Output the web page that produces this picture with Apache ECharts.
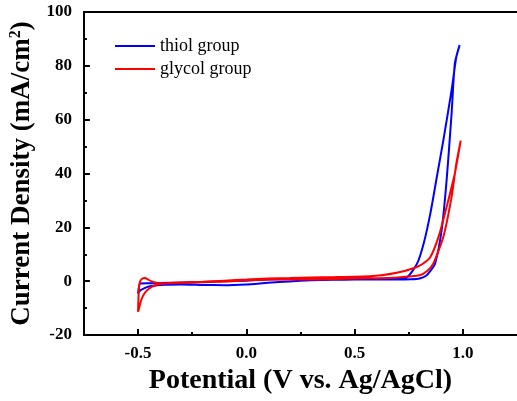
<!DOCTYPE html>
<html>
<head>
<meta charset="utf-8">
<script src="https://cdn.jsdelivr.net/npm/echarts@6/dist/echarts.min.js"></script>
<style>
  html, body { margin: 0; padding: 0; background: #fff; }
  #chart { width: 517px; height: 401px; }
</style>
</head>
<body>
<div id="chart"></div>
<script>
// thiol group (blue) CV loop
const thiolPotential = [-0.5, -0.49, -0.47, -0.45, -0.42, -0.38, -0.3, -0.2, -0.1, 0.0, 0.1, 0.2, 0.3, 0.4, 0.5, 0.6, 0.7, 0.76, 0.8, 0.83, 0.85, 0.872, 0.902, 0.925, 0.948, 0.963, 0.985,
  0.97, 0.948, 0.91, 0.88, 0.85, 0.819, 0.789, 0.744, 0.682, 0.6, 0.5, 0.3, 0.1, 0.0, -0.2, -0.35, -0.45, -0.49, -0.5];
const thiolCurrent = [-4.6, -3.5, -2.6, -2.0, -1.6, -1.3, -1.2, -1.4, -1.5, -1.2, -0.6, -0.1, 0.3, 0.5, 0.6, 0.6, 0.6, 0.7, 1.0, 2.0, 3.8, 6.6, 19, 37.5, 62.3, 80.9, 87.7,
  83.4, 71, 52.4, 38.8, 25.2, 14, 6.6, 1.6, 0.8, 0.8, 1.0, 1.0, 0.6, 0.2, -0.3, -0.6, -0.8, -0.9, -4.6];

// glycol group (red) CV loop
const glycolPotential = [-0.5, -0.498, -0.495, -0.49, -0.48, -0.468, -0.455, -0.44, -0.42, -0.4, -0.35, -0.3, -0.2, -0.1, 0.0, 0.1, 0.2, 0.3, 0.4, 0.5, 0.6, 0.7, 0.8, 0.835, 0.864, 0.91, 0.948, 0.97, 0.99,
  0.963, 0.925, 0.89, 0.85, 0.81, 0.772, 0.7, 0.623, 0.5, 0.4, 0.3, 0.2, 0.1, 0.0, -0.1, -0.2, -0.3, -0.38, -0.42, -0.45, -0.47, -0.485, -0.495, -0.5];
const glycolCurrent = [-11.4, -6, -2, 0, 1.0, 1.2, 0.7, 0, -0.5, -0.8, -0.7, -0.6, -0.4, -0.1, 0.3, 0.6, 0.6, 0.6, 0.8, 1.0, 1.1, 1.4, 2.2, 3.8, 6.6, 16.5, 31.3, 43.8, 52.2,
  40, 27.6, 17, 9, 6.2, 4.8, 3.2, 2.2, 1.6, 1.5, 1.4, 1.2, 1.0, 0.6, 0.2, -0.2, -0.5, -0.9, -1.5, -2.8, -4.5, -7, -10, -11.4];

const xMajorTicks = [-0.5, 0.0, 0.5, 1.0];
const xMinorTicks = [-0.25, 0.25, 0.75];
const yMajorTicks = [-20, 0, 20, 40, 60, 80, 100];
const yMinorTicks = [-10, 10, 30, 50, 70, 90];

const serif = "'Times New Roman', 'Liberation Serif', serif";

const pairs = (xs, ys) => xs.map((x, i) => [x, ys[i]]);

const chart = echarts.init(document.getElementById("chart"));

const axisLine = { show: true, onZero: false, lineStyle: { color: "#000", width: 2 } };
const noLine = { show: false, onZero: false };

const option = {
  animation: false,
  backgroundColor: "#fff",
  grid: { left: 77, top: 12, width: 441, height: 323 },
  legend: {
    left: 110,
    top: 32,
    orient: "vertical",
    itemWidth: 40,
    itemHeight: 2,
    itemGap: 5,
    icon: "rect",
    textStyle: { fontFamily: serif, fontSize: 18, color: "#000" },
    data: ["thiol group", "glycol group"]
  },
  xAxis: [
    {
      type: "value",
      min: -0.75,
      max: 1.25,
      position: "bottom",
      axisLine: axisLine,
      splitLine: { show: false },
      axisTick: { inside: true, length: 6, lineStyle: { color: "#000", width: 2 }, customValues: xMajorTicks },
      axisLabel: {
        customValues: xMajorTicks,
        margin: 10,
        fontFamily: serif,
        fontWeight: "bold",
        fontSize: 17,
        color: "#000",
        formatter: v => v.toFixed(1)
      },
      name: "Potential (V vs. Ag/AgCl)",
      nameLocation: "middle",
      nameGap: 31,
      nameTextStyle: { fontFamily: serif, fontWeight: "bold", fontSize: 28, color: "#000" }
    },
    {
      type: "value",
      min: -0.75,
      max: 1.25,
      position: "bottom",
      axisLine: noLine,
      splitLine: { show: false },
      axisTick: { inside: true, length: 3, lineStyle: { color: "#000", width: 2 }, customValues: xMinorTicks },
      axisLabel: { show: false }
    },
    {
      type: "value",
      min: -0.75,
      max: 1.25,
      position: "top",
      axisLine: axisLine,
      splitLine: { show: false },
      axisTick: { show: false },
      axisLabel: { show: false }
    }
  ],
  yAxis: [
    {
      type: "value",
      min: -20,
      max: 100,
      position: "left",
      axisLine: axisLine,
      splitLine: { show: false },
      axisTick: { inside: true, length: 6, lineStyle: { color: "#000", width: 2 }, customValues: yMajorTicks },
      axisLabel: {
        customValues: yMajorTicks,
        margin: 12,
        fontFamily: serif,
        fontWeight: "bold",
        fontSize: 17,
        color: "#000"
      },
      name: "{a|Current Density (mA/cm}{s|2}{a|)}",
      nameLocation: "middle",
      nameGap: 46,
      nameRotate: 90,
      nameTextStyle: {
        rich: {
          a: { fontFamily: serif, fontWeight: "bold", fontSize: 27, color: "#000" },
          s: { fontFamily: serif, fontWeight: "bold", fontSize: 16, color: "#000", verticalAlign: "top", padding: [0, 0, 12, 0] }
        }
      }
    },
    {
      type: "value",
      min: -20,
      max: 100,
      position: "left",
      axisLine: noLine,
      splitLine: { show: false },
      axisTick: { inside: true, length: 3, lineStyle: { color: "#000", width: 2 }, customValues: yMinorTicks },
      axisLabel: { show: false }
    }
  ],
  series: [
    {
      name: "thiol group",
      type: "line",
      data: pairs(thiolPotential, thiolCurrent),
      showSymbol: false,
      smooth: 0.2,
      color: "#0000ff",
      lineStyle: { color: "#0000ff", width: 2 }
    },
    {
      name: "glycol group",
      type: "line",
      data: pairs(glycolPotential, glycolCurrent),
      showSymbol: false,
      smooth: 0.2,
      color: "#ff0000",
      lineStyle: { color: "#ff0000", width: 2 }
    }
  ]
};

chart.setOption(option);
window.addEventListener("resize", () => chart.resize());
</script>
</body>
</html>
